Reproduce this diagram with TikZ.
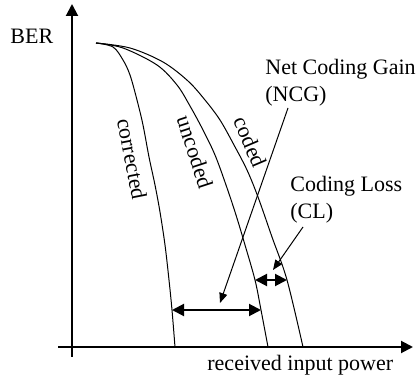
\documentclass[tikz,border=0pt]{standalone}
\usepackage{fontspec}
\setmainfont{Liberation Serif}
\usetikzlibrary{arrows.meta}

\begin{document}
\begin{tikzpicture}[
    x=0.5pt, y=-0.5pt,
    axis/.style={line width=1pt, -{Triangle[length=6pt, width=6pt]}},
    curve/.style={line width=0.5pt},
    gap/.style={line width=1pt,
                {Triangle[length=6pt, width=6pt]}-{Triangle[length=6pt, width=6pt]}},
    ptr/.style={line width=0.5pt, -{Triangle[length=5pt, width=4pt]}},
    lbl/.style={font=\fontsize{11}{13.5}\selectfont, inner sep=0pt},
]
    \useasboundingbox (0,0) rectangle (418,379);

    % axes
    \coordinate (ytop) at (72,4);
    \coordinate (ybot) at (72,357);
    \coordinate (xleft) at (58,347);
    \coordinate (xright) at (413,347);
    \draw[axis] (ybot) -- (ytop);
    \draw[axis] (xleft) -- (xright);

    \node[lbl, anchor=west] (ber) at (10,36) {BER};
    \node[lbl, anchor=west] (xlab) at (207,365) {received input power};

    % BER curves
    \draw[curve] plot[smooth, tension=0.55] coordinates {(96,43) (113,47) (123,60)
        (130,75) (137,100) (143,125) (149,157) (155,185) (160,212) (165,245)
        (169,280) (172,310) (175,347)};
    \draw[curve] plot[smooth, tension=0.55] coordinates {(96,43) (123,48) (157,65)
        (177,85) (190,106) (203,130) (215,155) (226,185) (236,215) (245,245)
        (255,280) (261,310) (268,347)};
    \draw[curve] plot[smooth, tension=0.55] coordinates {(96,43) (130,48) (163,62)
        (188,81) (205,100) (220,120) (234,145) (247,170) (258,197) (272,237)
        (287,280) (303,347)};

    \node[lbl, rotate=-79] (lcorr) at (132,159) {corrected};
    \node[lbl, rotate=-72] (lunc) at (195,152) {uncoded};
    \node[lbl, rotate=-67] (lcod) at (250,142) {coded};

    % gains
    \coordinate (ncgl) at (172,310);
    \coordinate (ncgr) at (261,310);
    \coordinate (cll) at (255,280);
    \coordinate (clr) at (287,280);
    \draw[gap] (ncgl) -- (ncgr);
    \draw[gap] (cll) -- (clr);

    \node[lbl, anchor=west, align=left] (ncg) at (265,83) {Net Coding Gain\\(NCG)};
    \node[lbl, anchor=west, align=left] (cl) at (290,200) {Coding Loss\\(CL)};

    \coordinate (ncgfrom) at (288,108);
    \coordinate (ncgto) at (220,303);
    \coordinate (clfrom) at (303,227);
    \coordinate (clto) at (273,270);
    \draw[ptr] (ncgfrom) -- (ncgto);
    \draw[ptr] (clfrom) -- (clto);
\end{tikzpicture}
\end{document}
